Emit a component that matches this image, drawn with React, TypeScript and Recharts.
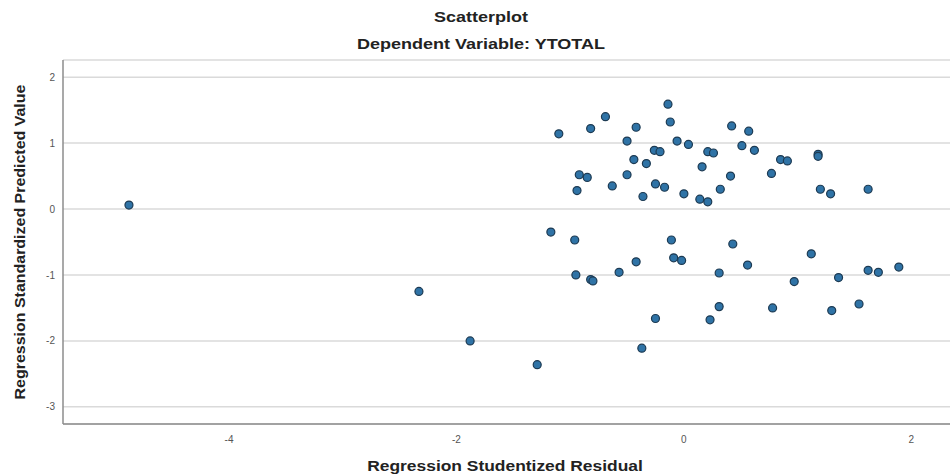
import React from 'react';
import { ScatterChart, Scatter, XAxis, YAxis, CartesianGrid } from 'recharts';

// Regression studentized residual (x) vs standardized predicted value (y)
const residuals = [
  -4.88, -2.33, -1.88, -1.29, -1.17, -1.1, -0.96, -0.95, -0.94, -0.92, -0.85, -0.82,
  -0.82, -0.8, -0.69, -0.63, -0.57, -0.5, -0.5, -0.44, -0.42, -0.42, -0.37, -0.36,
  -0.33, -0.26, -0.25, -0.25, -0.21, -0.17, -0.14, -0.12, -0.11, -0.09, -0.06, -0.02,
  0.0, 0.04, 0.14, 0.16, 0.21, 0.21, 0.23, 0.26, 0.31, 0.31, 0.32, 0.41,
  0.42, 0.43, 0.51, 0.56, 0.57, 0.62, 0.77, 0.78, 0.85, 0.91, 0.97, 1.12,
  1.18, 1.18, 1.2, 1.29, 1.3, 1.36, 1.54, 1.62, 1.62, 1.71, 1.89,
];
const predicted = [
  0.06, -1.25, -2.0, -2.36, -0.35, 1.14, -0.47, -1.0, 0.28, 0.52, 0.48, 1.22,
  -1.07, -1.09, 1.4, 0.35, -0.96, 1.03, 0.52, 0.75, 1.24, -0.8, -2.11, 0.19,
  0.69, 0.89, 0.38, -1.66, 0.87, 0.33, 1.59, 1.32, -0.47, -0.74, 1.03, -0.78,
  0.23, 0.98, 0.15, 0.64, 0.87, 0.11, -1.68, 0.85, -1.48, -0.97, 0.3, 0.5,
  1.26, -0.53, 0.96, -0.85, 1.18, 0.89, 0.54, -1.5, 0.75, 0.73, -1.1, -0.68,
  0.83, 0.8, 0.3, 0.23, -1.54, -1.04, -1.44, 0.3, -0.93, -0.96, -0.88,
];
const xTicks = [-4, -2, 0, 2];
const yTicks = [-3, -2, -1, 0, 1, 2];

const points = residuals.map((x, i) => ({ x, y: predicted[i] }));

const font = '"Liberation Sans", Arial, sans-serif';

const Dot = (props: any) => {
  const { cx, cy } = props;
  return <circle cx={cx} cy={cy} r={4} fill="#2f73a6" stroke="#1d3a52" strokeWidth={1.2} />;
};

const titleStyle: React.CSSProperties = {
  position: 'absolute',
  fontWeight: 'bold',
  color: '#222',
  whiteSpace: 'nowrap',
};

export default function App() {
  return (
    <div style={{ position: 'absolute', left: 0, top: 0, width: 951, height: 476, background: '#fff', fontFamily: font }}>
      <div style={{ ...titleStyle, left: 481, top: 8, fontSize: 15, transform: 'translateX(-50%) scaleX(1.2)' }}>
        Scatterplot
      </div>
      <div style={{ ...titleStyle, left: 481, top: 35, fontSize: 15, transform: 'translateX(-50%) scaleX(1.2)' }}>
        Dependent Variable: YTOTAL
      </div>
      <div style={{ ...titleStyle, left: 505, top: 457, fontSize: 15, transform: 'translateX(-50%) scaleX(1.16)' }}>
        Regression Studentized Residual
      </div>
      <div style={{ ...titleStyle, left: 20, top: 242, fontSize: 14, transform: 'translate(-50%, -50%) rotate(-90deg) scaleX(1.14)' }}>
        Regression Standardized Predicted Value
      </div>
      <ScatterChart width={951} height={476} margin={{ top: 60, right: 1, bottom: 0, left: 0 }}>
        <CartesianGrid vertical={false} stroke="#dadada" strokeWidth={1.5} />
        <XAxis
          type="number"
          dataKey="x"
          domain={[-5.46, 2.34]}
          ticks={xTicks}
          height={52}
          tickLine={false}
          tickSize={0}
          tickMargin={12}
          axisLine={{ stroke: '#8c8c8c', strokeWidth: 1.5 }}
          tick={{ fill: '#555', fontSize: 10, fontFamily: font }}
          allowDataOverflow
        />
        <YAxis
          type="number"
          dataKey="y"
          domain={[-3.26, 2.26]}
          ticks={yTicks}
          width={63}
          tickLine={false}
          tickSize={0}
          tickMargin={8}
          axisLine={{ stroke: '#8c8c8c', strokeWidth: 1.5 }}
          tick={{ fill: '#555', fontSize: 10, fontFamily: font }}
          allowDataOverflow
        />
        <Scatter data={points} shape={<Dot />} isAnimationActive={false} />
      </ScatterChart>
    </div>
  );
}
